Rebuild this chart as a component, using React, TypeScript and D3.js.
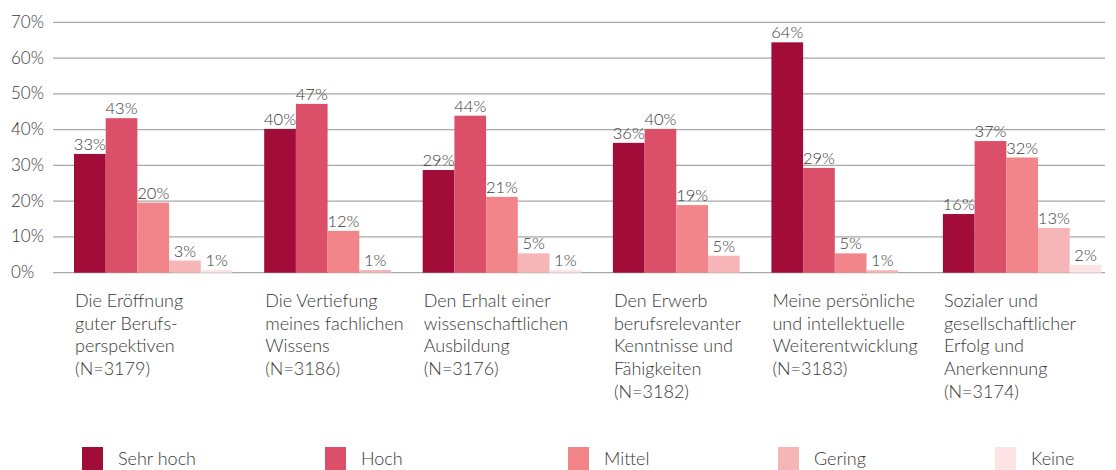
import React from "react";
import * as d3 from "d3";

const categories: string[][] = [
  ["Die Eröffnung", "guter Berufs-", "perspektiven", "(N=3179)"],
  ["Die Vertiefung", "meines fachlichen", "Wissens", "(N=3186)"],
  ["Den Erhalt einer", "wissenschaftlichen", "Ausbildung", "(N=3176)"],
  ["Den Erwerb", "berufsrelevanter", "Kenntnisse und", "Fähigkeiten", "(N=3182)"],
  ["Meine persönliche", "und intellektuelle", "Weiterentwicklung", "(N=3183)"],
  ["Sozialer und", "gesellschaftlicher", "Erfolg und", "Anerkennung", "(N=3174)"],
];

const seriesNames = ["Sehr hoch", "Hoch", "Mittel", "Gering", "Keine"];

// values per category, in series order (Sehr hoch, Hoch, Mittel, Gering, Keine)
const sehrHoch = [33.2, 40.2, 28.7, 36.3, 64.4, 16.4];
const hoch = [43.2, 47.2, 43.9, 40.2, 29.3, 36.8];
const mittel = [19.6, 11.7, 21.2, 18.9, 5.4, 32.2];
const gering = [3.4, 0.75, 5.4, 4.75, 0.7, 12.5];
const keine = [0.75, 0, 0.75, 0, 0, 2.2];

const yTicks = [0, 10, 20, 30, 40, 50, 60, 70];

const colors = ["#a20c38", "#db5068", "#f2858a", "#f6b5b6", "#fce4e4"];

const W = 1116;
const H = 470;
const FONT = "Lato, 'Open Sans', sans-serif";
const TEXT = "#383838";

export default function App() {
  const series = [sehrHoch, hoch, mittel, gering, keine];

  const y = d3.scaleLinear().domain([0, 70]).range([272.7, 22.3]);

  // Each category occupies one slot per drawn (non-zero) bar plus one slot gap.
  const slotsPer = categories.map((_, i) => series.filter((s) => s[i] > 0).length + 1);
  const starts: number[] = [];
  let acc = 0;
  slotsPer.forEach((s) => {
    starts.push(acc);
    acc += s;
  });
  const barW = 31.7;
  const x = d3.scaleLinear().domain([0, acc]).range([74, 74 + acc * barW]);
  // the last category sits a little further right in the reference
  const catX = (ci: number) => x(starts[ci]) + (ci === categories.length - 1 ? 13 : 0);

  const legendX = [82, 325, 568, 778, 995];

  return (
    <svg
      width={W}
      height={H}
      style={{ position: "absolute", left: 0, top: 0, background: "#fff" }}
      fontFamily={FONT}
      fontWeight={300}
    >
      {yTicks.map((t) => (
        <g key={t}>
          <line x1={53} x2={1105} y1={y(t)} y2={y(t)} stroke="#a8a8a8" strokeWidth={1.2} />
          <text x={11} y={y(t) + 5.5} fontSize={17} fill={TEXT}>
            {t}%
          </text>
        </g>
      ))}
      {categories.map((lines, ci) => {
        let bx = catX(ci);
        const bars: React.ReactNode[] = [];
        series.forEach((s, si) => {
          const v = s[ci];
          if (v <= 0) return;
          const left = bx;
          bx += barW;
          bars.push(
            <g key={si}>
              <rect x={left} y={y(v)} width={barW} height={y(0) - y(v)} fill={colors[si]} />
              <text
                x={left + barW / 2}
                y={y(v) - 4}
                textAnchor="middle"
                fontSize={16.5}
                fill={TEXT}
              >
                {Math.max(1, Math.round(v))}%
              </text>
            </g>
          );
        });
        return (
          <g key={ci}>
            {bars}
            {lines.map((l, li) => (
              <text key={li} x={catX(ci) + 1} y={307 + li * 22.7} fontSize={18} fill={TEXT}>
                {l}
              </text>
            ))}
          </g>
        );
      })}
      {seriesNames.map((n, i) => (
        <g key={n}>
          <rect x={legendX[i]} y={447} width={21} height={23} fill={colors[i]} />
          <text x={legendX[i] + 36} y={465} fontSize={18} fill={TEXT}>
            {n}
          </text>
        </g>
      ))}
    </svg>
  );
}
